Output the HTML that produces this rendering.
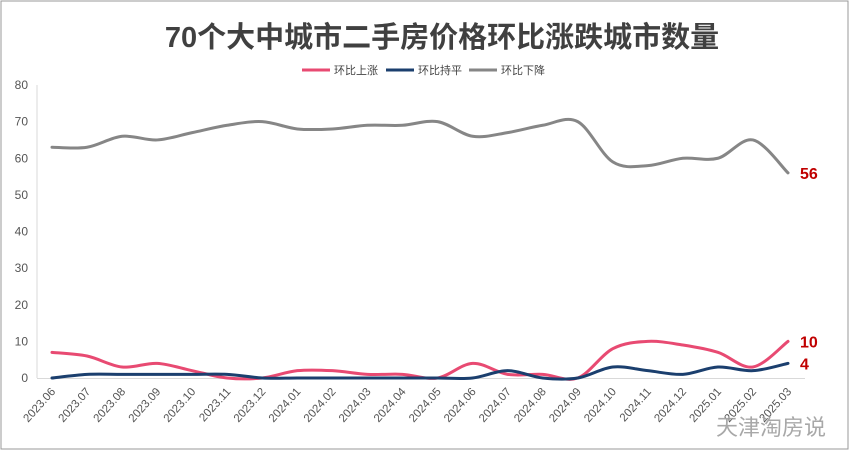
<!DOCTYPE html>
<html><head><meta charset="utf-8"><style>
body{margin:0;background:#fff;}
svg{display:block;font-family:"Liberation Sans","Noto Sans CJK SC",sans-serif;}
</style></head><body>
<svg id="c" width="851" height="452">
<rect x="1" y="1" width="847" height="448" fill="#fff" stroke="#999"/>
<text x="442" y="47" text-anchor="middle" font-size="29" font-weight="bold" fill="#404040">70个大中城市二手房价格环比涨跌城市数量</text>
<g>
<g><line x1="302" y1="70" x2="330" y2="70" stroke="#e84a72" stroke-width="3"/><text x="334" y="74" font-size="11" fill="#444">环比上涨</text></g>
<g><line x1="386" y1="70" x2="414" y2="70" stroke="#1b3f6e" stroke-width="3"/><text x="418" y="74" font-size="11" fill="#444">环比持平</text></g>
<g><line x1="469" y1="70" x2="497" y2="70" stroke="#868686" stroke-width="3"/><text x="501" y="74" font-size="11" fill="#444">环比下降</text></g>
</g>
<g id="axes"></g><g id="series"></g>
<text x="716" y="435" font-size="22" fill="#999" opacity="0.85">天津淘房说</text>
</svg>
<script>
const categories=["2023.06","2023.07","2023.08","2023.09","2023.10","2023.11","2023.12","2024.01","2024.02","2024.03","2024.04","2024.05","2024.06","2024.07","2024.08","2024.09","2024.10","2024.11","2024.12","2025.01","2025.02","2025.03"];
const upValues=[7,6,3,4,2,0,0,2,2,1,1,0,4,1,1,0,8,10,9,7,3,10];
const flatValues=[0,1,1,1,1,1,0,0,0,0,0,0,0,2,0,0,3,2,1,3,2,4];
const downValues=[63,63,66,65,67,69,70,68,68,69,69,70,66,67,69,70,59,58,60,60,65,56];
const yTicks=[0,10,20,30,40,50,60,70,80];
const NS="http://www.w3.org/2000/svg";
const X=i=>52+i*(788-52)/(categories.length-1);
const Y=v=>378-v*(378-85)/80;
const ax=document.getElementById('axes'),se=document.getElementById('series');
function mk(t,a,p){const e=document.createElementNS(NS,t);for(const k in a)e.setAttribute(k,a[k]);p.appendChild(e);return e;}
let yl=mk('line',{x1:37,y1:85,x2:37,y2:378,stroke:'#d9d9d9'},ax);


let xl=mk('line',{x1:37,y1:378.5,x2:805,y2:378.5,stroke:'#d9d9d9'},ax);


yTicks.forEach(v=>{const t=mk('text',{x:28,y:Y(v)+4,'text-anchor':'end','font-size':12,fill:'#555'},ax);t.textContent=v;

});
categories.forEach((c,i)=>{const x=X(i)+4,y=392;const t=mk('text',{x:x,y:y,'text-anchor':'end','font-size':11.5,fill:'#555',transform:`rotate(-48 ${x} ${y})`},ax);t.textContent=c;

});
function path(vals){const p=vals.map((v,i)=>[X(i),Y(v)]);let d=`M${p[0][0]},${p[0][1]}`;
for(let i=0;i<p.length-1;i++){const p0=p[i-1]||p[i],p1=p[i],p2=p[i+1],p3=p[i+2]||p2;const k=1/6;
d+=` C${p1[0]+(p2[0]-p0[0])*k},${p1[1]+(p2[1]-p0[1])*k} ${p2[0]-(p3[0]-p1[0])*k},${p2[1]-(p3[1]-p1[1])*k} ${p2[0]},${p2[1]}`;}return d;}
[[downValues,'#868686','line-down'],[upValues,'#e84a72','line-up'],[flatValues,'#1b3f6e','line-flat']].forEach(([v,c,n])=>{
const e=mk('path',{d:path(v),fill:'none',stroke:c,'stroke-width':3,'stroke-linecap':'round'},se);

});
const last=categories.length-1;
[[downValues[last],'label-down'],[upValues[last],'label-up'],[flatValues[last],'label-flat']].forEach(([v,n])=>{
const t=mk('text',{x:800,y:Y(v)+6,'font-size':16,'font-weight':'bold',fill:'#c00000'},se);t.textContent=v;

});
</script>
</body></html>
